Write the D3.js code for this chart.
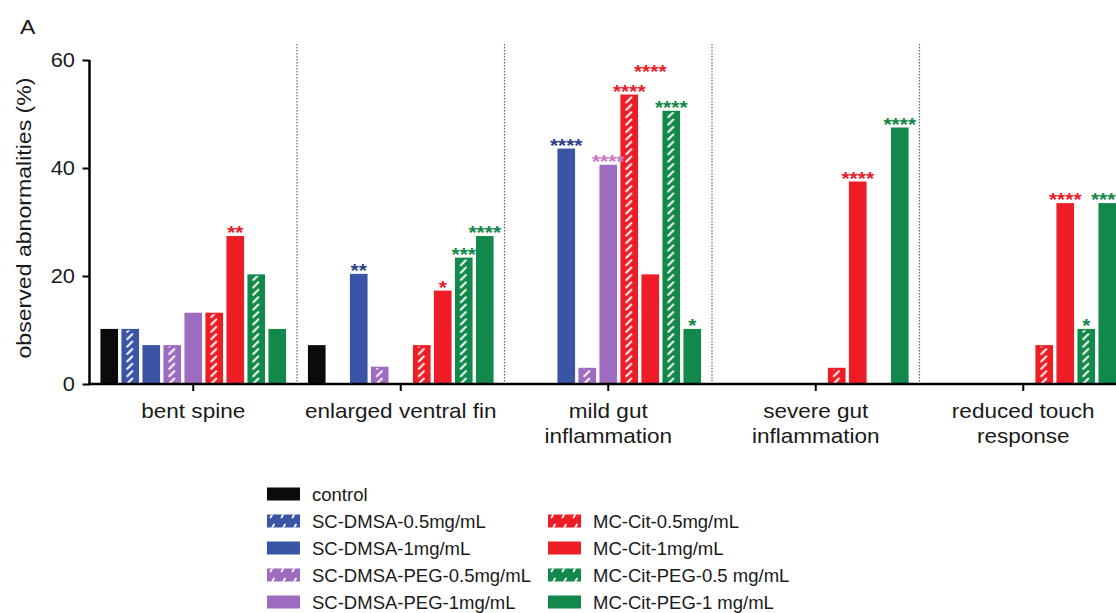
<!DOCTYPE html>
<html>
<head>
<meta charset="utf-8">
<script src="https://cdn.jsdelivr.net/npm/d3@7"></script>
<style>
  body { margin: 0; background: #fff; }
  text { font-family: "Liberation Sans", Arial, sans-serif; fill: #1a1a1a; }
</style>
</head>
<body>
<div id="chart"></div>
<script>
// categories on the x axis (label lines)
var categories = ["bent spine", "enlarged ventral fin", "mild gut inflammation", "severe gut inflammation", "reduced touch response"];
var categoryLines = [["bent spine"], ["enlarged ventral fin"], ["mild gut", "inflammation"], ["severe gut", "inflammation"], ["reduced touch", "response"]];

var series = ["control", "SC-DMSA-0.5mg/mL", "SC-DMSA-1mg/mL", "SC-DMSA-PEG-0.5mg/mL", "SC-DMSA-PEG-1mg/mL",
  "MC-Cit-0.5mg/mL", "MC-Cit-1mg/mL", "MC-Cit-PEG-0.5 mg/mL", "MC-Cit-PEG-1 mg/mL"];
var hatched = [false, true, false, true, false, true, false, true, false];
var colors = ["#0b0b0b", "#3b55a6", "#3b55a6", "#9d6cc0", "#9d6cc0", "#ee1d25", "#ee1d25", "#12894a", "#12894a"];
var starColors = ["#000", "#2f3f8c", "#2f3f8c", "#c779c4", "#c779c4", "#e6202a", "#e6202a", "#12894a", "#12894a"];

// % observed abnormalities, one array per series (order = categories)
var control      = [10.2, 7.2, 0, 0, 0];
var scDmsa05     = [10.2, 0, 0, 0, 0];
var scDmsa1      = [7.2, 20.4, 43.6, 0, 0];
var scDmsaPeg05  = [7.2, 3.2, 3.0, 0, 0];
var scDmsaPeg1   = [13.2, 0, 40.6, 0, 0];
var mcCit05      = [13.2, 7.2, 53.6, 3.0, 7.2];
var mcCit1       = [27.4, 17.3, 20.3, 37.5, 33.5];
var mcCitPeg05   = [20.3, 23.4, 50.6, 0, 10.2];
var mcCitPeg1    = [10.2, 27.4, 10.2, 47.5, 33.5];
var values = [control, scDmsa05, scDmsa1, scDmsaPeg05, scDmsaPeg1, mcCit05, mcCit1, mcCitPeg05, mcCitPeg1];

// significance marks
var starsControl     = ["", "", "", "", ""];
var starsScDmsa05    = ["", "", "", "", ""];
var starsScDmsa1     = ["", "**", "****", "", ""];
var starsScDmsaPeg05 = ["", "", "", "", ""];
var starsScDmsaPeg1  = ["", "", "****", "", ""];
var starsMcCit05     = ["", "", "****", "", ""];
var starsMcCit1      = ["**", "*", "****", "****", "****"];
var starsMcCitPeg05  = ["", "***", "****", "", "*"];
var starsMcCitPeg1   = ["", "****", "*", "****", "****"];
var stars = [starsControl, starsScDmsa05, starsScDmsa1, starsScDmsaPeg05, starsScDmsaPeg1,
  starsMcCit05, starsMcCit1, starsMcCitPeg05, starsMcCitPeg1];
// one mark was lifted above its neighbours in the original (level in %)
var starLevelMcCit1 = [null, null, 57.3, null, null];

var yTicks = [0, 20, 40, 60];

var width = 1116, height = 613;
var wide = 1.1; // the original's type is set a bit wider than Arial

var svg = d3.select("#chart").append("svg")
  .attr("width", width).attr("height", height);

var defs = svg.append("defs");

var x = d3.scaleBand().domain(categories).range([89.5, 1127]).paddingInner(0).paddingOuter(0);
var xs = d3.scaleBand().domain(series).range([0, x.bandwidth()]).paddingInner(0.16).paddingOuter(0.52);
var y = d3.scaleLinear().domain([0, 60]).range([384, 60]);
var bw = xs.bandwidth();

function wideText(parent, tx, ty, str, size, anchor, rot) {
  return parent.append("text")
    .attr("transform", "translate(" + tx + "," + ty + ")" + (rot ? " rotate(" + rot + ")" : "") + " scale(" + wide + ",1)")
    .attr("text-anchor", anchor || "start")
    .style("font-size", size + "px")
    .text(str);
}

// hatch for bars (aligned to each bar's left edge)
defs.append("pattern").attr("id", "hatch").attr("patternUnits", "userSpaceOnUse")
  .attr("width", bw).attr("height", 7.4)
  .append("line")
  .attr("x1", bw * 0.33).attr("y1", 6.2).attr("x2", bw * 0.62).attr("y2", 1.2)
  .attr("stroke", "#fff").attr("stroke-width", 2).attr("stroke-linecap", "round");
defs.append("pattern").attr("id", "hatchLegend").attr("patternUnits", "userSpaceOnUse")
  .attr("width", 11).attr("height", 13)
  .append("line")
  .attr("x1", 3.5).attr("y1", 9.5).attr("x2", 7).attr("y2", 3.5)
  .attr("stroke", "#fff").attr("stroke-width", 1.8).attr("stroke-linecap", "round");

// dotted dividers between groups
svg.selectAll(".divider").data(categories.slice(1)).enter().append("line")
  .attr("class", "divider")
  .attr("x1", function (d) { return x(d); }).attr("x2", function (d) { return x(d); })
  .attr("y1", 44).attr("y2", 384)
  .attr("stroke", "#666").attr("stroke-width", 1.2).attr("stroke-dasharray", "1.5,1.5");

// bars
var cells = [];
values.forEach(function (arr, si) {
  arr.forEach(function (v, ci) {
    cells.push({ si: si, ci: ci, value: v, stars: stars[si][ci],
      level: si === 6 && starLevelMcCit1[ci] !== null ? starLevelMcCit1[ci] : v });
  });
});

var barG = svg.selectAll(".bar").data(cells.filter(function (d) { return d.value > 0; }))
  .enter().append("g")
  .attr("class", "bar")
  .attr("transform", function (d) { return "translate(" + (x(categories[d.ci]) + xs(series[d.si])) + ",0)"; });

barG.append("rect")
  .attr("x", 0).attr("width", bw)
  .attr("y", function (d) { return y(d.value); })
  .attr("height", function (d) { return y(0) - y(d.value); })
  .attr("fill", function (d) { return colors[d.si]; });

barG.filter(function (d) { return hatched[d.si]; }).append("rect")
  .attr("x", 0).attr("width", bw)
  .attr("y", function (d) { return y(d.value) + 1.5; })
  .attr("height", function (d) { return Math.max(0, y(0) - y(d.value) - 1.5); })
  .attr("fill", "url(#hatch)");

// significance stars
cells.filter(function (d) { return d.stars; }).forEach(function (d) {
  wideText(svg, x(categories[d.ci]) + xs(series[d.si]) + bw / 2, y(d.level) + 3, d.stars, 19, "middle")
    .attr("class", "stars")
    .style("font-weight", "bold")
    .style("fill", starColors[d.si]);
});

// axes
var yAxis = svg.append("g").attr("transform", "translate(89.5,0)")
  .call(d3.axisLeft(y).tickValues(yTicks).tickSize(7).tickPadding(6));
yAxis.select(".domain").attr("stroke", "#000").attr("stroke-width", 2.5)
  .attr("d", "M0," + y(60) + "V" + y(0));
yAxis.selectAll(".tick line").attr("stroke", "#000").attr("stroke-width", 2);
yAxis.selectAll(".tick text")
  .attr("transform", "scale(" + (wide + 0.02) + ",1)")
  .style("font-size", "19.5px").style("font-family", "Liberation Sans, Arial, sans-serif").attr("fill", "#1a1a1a");

var xAxis = svg.append("g").attr("transform", "translate(0," + y(0) + ")")
  .call(d3.axisBottom(x).tickSize(7).tickFormat(""));
xAxis.select(".domain").attr("stroke", "#000").attr("stroke-width", 2.5)
  .attr("d", "M88,0H1127");
xAxis.selectAll(".tick line").attr("stroke", "#000").attr("stroke-width", 2);

categories.forEach(function (c, i) {
  categoryLines[i].forEach(function (line, li) {
    wideText(svg, x(c) + x.bandwidth() / 2, 418 + li * 24.5, line, 20.5, "middle");
  });
});

wideText(svg, 31, 218, "observed abnormalities (%)", 21, "middle", -90);

wideText(svg, 20, 34, "A", 21, "start");

// legend
var legendPos = [[0, 0], [0, 1], [0, 2], [0, 3], [0, 4], [1, 1], [1, 2], [1, 3], [1, 4]];
var legend = svg.selectAll(".legend").data(series).enter().append("g")
  .attr("class", "legend")
  .attr("transform", function (d, i) {
    return "translate(" + (legendPos[i][0] ? 548 : 267) + "," + (494 + legendPos[i][1] * 27) + ")";
  });
legend.append("rect").attr("x", 0).attr("y", -6.5).attr("width", 33).attr("height", 13)
  .attr("fill", function (d, i) { return colors[i]; });
legend.filter(function (d, i) { return hatched[i]; }).append("rect")
  .attr("x", 0).attr("y", -6.5).attr("width", 33).attr("height", 13)
  .attr("fill", "url(#hatchLegend)");
legend.append("text").attr("x", 45).attr("y", 6.5)
  .style("font-size", "18.5px")
  .text(function (d) { return d; });
</script>
</body>
</html>
